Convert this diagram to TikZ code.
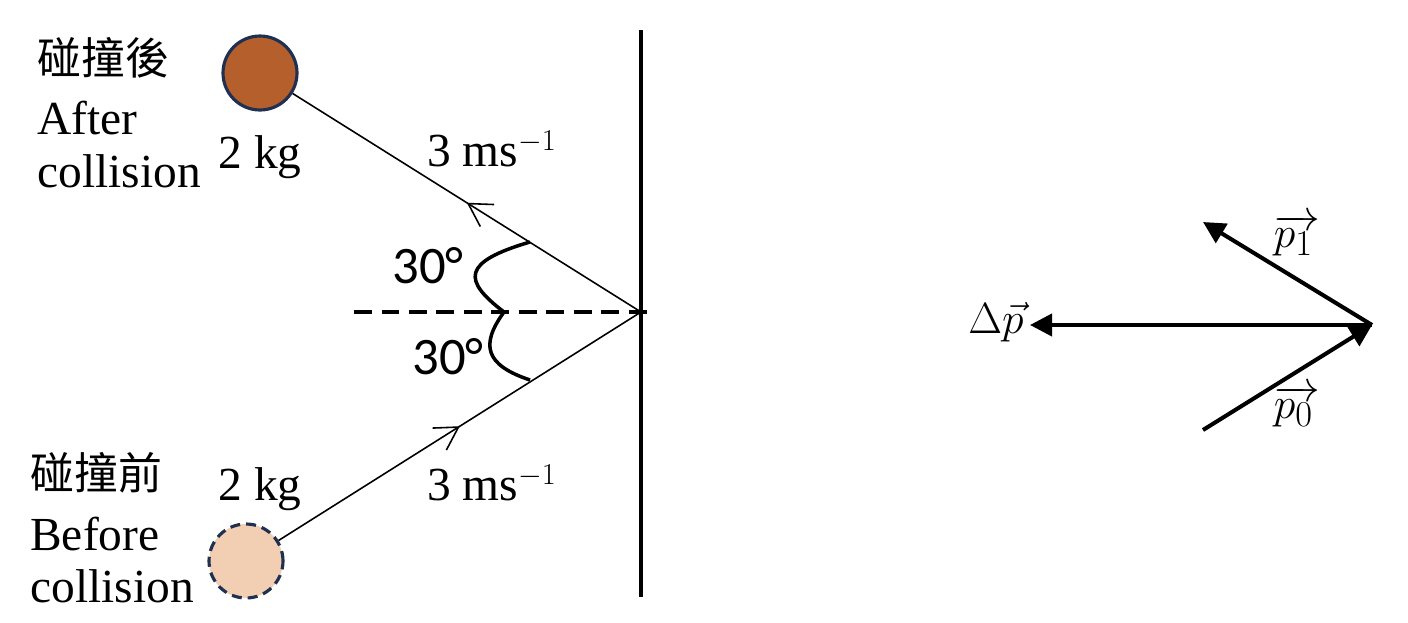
\documentclass[tikz,border=0pt]{standalone}
\usepackage{fontspec}
\setmainfont{Liberation Serif}
\newfontfamily\cjk{Noto Sans CJK TC}
\newfontfamily\anglefont{Carlito}
\usetikzlibrary{arrows.meta, decorations.markings, positioning}
\definecolor{ballbrown}{RGB}{181,96,44}
\definecolor{ballpeach}{RGB}{242,207,178}
\definecolor{ballrim}{RGB}{31,48,80}
\tikzstyle{ball} = [circle, minimum size=1.48cm, inner sep=0pt, draw=ballrim, line width=1.8pt]
\tikzstyle{txt} = [inner sep=0pt, font=\fontsize{27}{32}\selectfont]
\tikzstyle{cjktxt} = [inner sep=0pt, font=\cjk\fontsize{25}{30}\selectfont]
\tikzstyle{angletxt} = [inner sep=0pt, font=\anglefont\fontsize{30}{34}\selectfont]
\tikzstyle{vlabel} = [inner sep=0pt, font=\fontsize{30}{34}\selectfont]
\tikzstyle{track} = [line width=0.9pt, postaction={decorate}, decoration={markings, mark=at position 0.5 with {\arrow[line width=0.9pt]{Straight Barb[length=0.45cm, width=0.52cm]}}}]
\tikzstyle{vec} = [line width=2.3pt, -{Triangle[length=0.44cm, width=0.44cm]}]

\begin{document}
\begin{tikzpicture}[x=0.02cm, y=-0.02cm]
\useasboundingbox (0,0) rectangle (1408,622);

% wall and normal
\coordinate (hit) at (641,312);
\coordinate (walltop) at (641,30);
\coordinate (wallbot) at (641,597);
\coordinate (normleft) at (354,312);
\coordinate (normright) at (651,312);
\draw[line width=2.2pt] (walltop) -- (wallbot);
\draw[line width=2.1pt, dash pattern=on 0.36cm off 0.19cm] (normleft) -- (normright);

% balls
\node (after) [ball, fill=ballbrown] at (260,73) {};
\node (before) [ball, fill=ballpeach, dash pattern=on 0.2cm off 0.12cm] at (246,561) {};
\draw[track] (hit) -- (after);
\draw[track] (before) -- (hit);

% angle marks
\draw[line width=2pt] (530,242) .. controls (462,262) and (462,280) .. (504,312);
\draw[line width=2pt] (504,312) .. controls (480,345) and (485,365) .. (530,380);
\node (ang1) [angletxt] at (428,266) {30°};
\node (ang0) [angletxt] at (448,357) {30°};

% labels, after collision
\node (aftercn) [cjktxt, anchor=west] at (37,58) {碰撞後};
\node (afteren1) [txt, anchor=base west] at (37,134) {After};
\node (afteren2) [txt, anchor=base west] at (37,187) {collision};
\node (aftermass) [txt, anchor=base] at (260,168) {2 kg};
\node (afterspeed) [txt, anchor=base west] at (427,166) {3 ms$^{-1}$};

% labels, before collision
\node (beforecn) [cjktxt, anchor=west] at (30,473) {碰撞前};
\node (beforeen1) [txt, anchor=base west] at (30,550) {Before};
\node (beforeen2) [txt, anchor=base west] at (30,602) {collision};
\node (beforemass) [txt, anchor=base] at (260,500) {2 kg};
\node (beforespeed) [txt, anchor=base west] at (427,500) {3 ms$^{-1}$};

% momentum vectors
\coordinate (tip) at (1372,325);
\coordinate (dpend) at (1030,325);
\coordinate (p1end) at (1203,222);
\coordinate (p0start) at (1203,430);
\draw[vec] (tip) -- (dpend);
\draw[vec] (tip) -- (p1end);
\draw[vec] (p0start) -- (tip);
\node (dp) [vlabel] at (996,322) {$\Delta\vec{p}$};
\node (p1) [vlabel] at (1297,235) {$\overrightarrow{p_1\,}$};
\node (p0) [vlabel] at (1297,406) {$\overrightarrow{p_0\,}$};
\end{tikzpicture}
\end{document}
